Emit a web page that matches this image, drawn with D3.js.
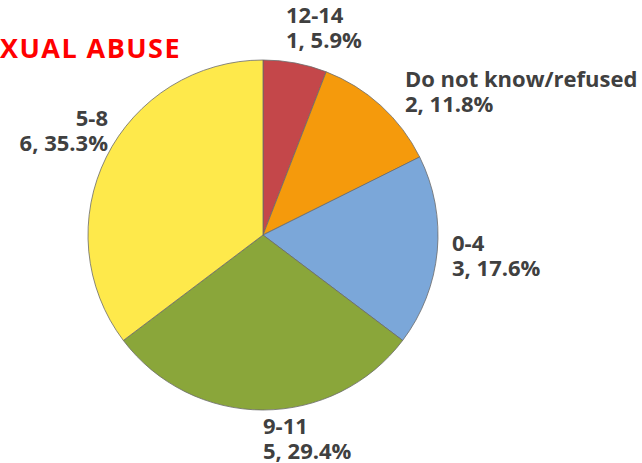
<!DOCTYPE html>
<html>
<head>
<meta charset="utf-8">
<script src="https://cdn.jsdelivr.net/npm/d3@7"></script>
<style>
  html, body { margin: 0; padding: 0; background: #fff; }
  svg { display: block; }
</style>
</head>
<body>
<svg id="chart" width="642" height="463"></svg>
<script>
// Age groups and counts, in drawing order (clockwise from 12 o'clock)
const categories = ["12-14", "Do not know/refused", "0-4", "9-11", "5-8"];
const counts = [1, 2, 3, 5, 6];
const sliceColors = ["#C4474A", "#F59A0C", "#7BA7D9", "#8AA63A", "#FEE94B"];
const title = "SEXUAL ABUSE";

// Label placement per slice: anchor, x, y of first baseline
const labelLayout = [
  { anchor: "start", x: 286, y: 23 },
  { anchor: "start", x: 405, y: 87 },
  { anchor: "start", x: 452, y: 251 },
  { anchor: "start", x: 263, y: 434 },
  { anchor: "end",   x: 108, y: 126 }
];

const svg = d3.select("#chart");
const cx = 263, cy = 235, radius = 175;
const total = d3.sum(counts);

const pie = d3.pie().sort(null).value(d => d.value);
const arc = d3.arc().innerRadius(0).outerRadius(radius);

const data = categories.map((c, i) => ({ name: c, value: counts[i], color: sliceColors[i] }));

const g = svg.append("g").attr("transform", `translate(${cx},${cy})`);
g.selectAll("path")
  .data(pie(data))
  .join("path")
  .attr("d", arc)
  .attr("fill", d => d.data.color)
  .attr("stroke", "#6b6b6b")
  .attr("stroke-width", 0.8);

const fmt = d3.format(".1f");
const labels = svg.append("g")
  .attr("font-family", "'Open Sans', 'Noto Sans', sans-serif")
  .attr("font-weight", "bold")
  .attr("font-size", 22)
  .attr("fill", "#404040");

data.forEach((d, i) => {
  const L = labelLayout[i];
  const t = labels.append("text")
    .attr("text-anchor", L.anchor)
    .attr("x", L.x).attr("y", L.y);
  t.append("tspan").attr("x", L.x).text(d.name);
  t.append("tspan").attr("x", L.x).attr("dy", 25)
    .text(`${d.value}, ${fmt(d.value / total * 100)}%`);
});

// Title runs off the left edge; its right end sits at x = 181
const titleEnd = 181, titleSize = 27;
const titleText = svg.append("text")
  .attr("y", 58)
  .attr("font-family", "'Open Sans', 'Noto Sans', sans-serif")
  .attr("font-weight", "bold")
  .attr("font-size", titleSize)
  .attr("fill", "#FF0000")
  .text(title);
// widen the letters slightly so the visible part spans the same width
const fullW = titleText.node().getComputedTextLength();
const head = svg.append("text")
  .attr("font-family", "'Open Sans', 'Noto Sans', sans-serif")
  .attr("font-weight", "bold")
  .attr("font-size", titleSize)
  .text(title.slice(0, 2));
const headW = head.node().getComputedTextLength();
head.remove();
const tailW = fullW - headW;
const spacing = Math.max(0, (titleEnd - tailW) / (title.length - 2));
titleText
  .attr("letter-spacing", spacing)
  .attr("x", -(headW + 2 * spacing));
</script>
</body>
</html>
